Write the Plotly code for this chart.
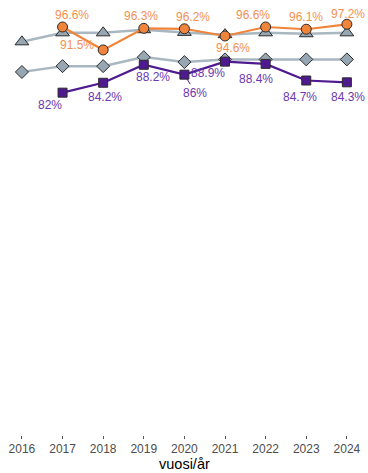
import plotly.graph_objects as go

years = [2016, 2017, 2018, 2019, 2020, 2021, 2022, 2023, 2024]

# orange series (labelled)
orange_years = [2017, 2018, 2019, 2020, 2021, 2022, 2023, 2024]
orange_vals = [96.6, 91.5, 96.3, 96.2, 94.6, 96.6, 96.1, 97.2]

# purple series (labelled)
purple_years = [2017, 2018, 2019, 2020, 2021, 2022, 2023, 2024]
purple_vals = [82.0, 84.2, 88.2, 86.0, 88.9, 88.4, 84.7, 84.3]

# grey comparison series (no labels)
tri_vals = [93.3, 95.3, 95.3, 96.0, 95.4, 94.9, 95.3, 95.1, 95.3]
dia_vals = [86.6, 87.9, 87.9, 89.9, 88.8, 89.4, 89.4, 89.4, 89.4]

# label offsets in px (dx, dy), ggrepel-like placement
orange_off = [(9, 12), (-26, 5), (-3, 12), (9, 12), (8, -12), (-13, 12), (0, 12), (1, 10)]
purple_off = [(-13, -12), (2, -14), (9, -12), (11, -18), (-17, -11), (-10, -15), (-6, -16), (1, -15)]

ORANGE = "#F0843A"
ORANGE_TXT = "#F39050"
PURPLE = "#4F1A8F"
PURPLE_TXT = "#6A38B0"
GREY_LINE = "#A9B7C1"
GREY_FILL = "#96A7B3"
EDGE = "#2b2b2b"

fig = go.Figure()

fig.add_trace(go.Scatter(
    x=years, y=dia_vals, mode="lines+markers",
    line=dict(color=GREY_LINE, width=2.5),
    marker=dict(symbol="diamond", size=10, color=GREY_FILL, line=dict(color=EDGE, width=1)),
    hoverinfo="skip", showlegend=False,
))
fig.add_trace(go.Scatter(
    x=years, y=tri_vals, mode="lines+markers",
    line=dict(color=GREY_LINE, width=2.5),
    marker=dict(symbol="triangle-up", size=12, color=GREY_FILL, line=dict(color=EDGE, width=1)),
    hoverinfo="skip", showlegend=False,
))
fig.add_trace(go.Scatter(
    x=orange_years, y=orange_vals, mode="lines+markers",
    line=dict(color=ORANGE, width=2.2),
    marker=dict(symbol="circle", size=10, color=ORANGE, line=dict(color=EDGE, width=1)),
    hoverinfo="skip", showlegend=False,
))
fig.add_trace(go.Scatter(
    x=purple_years, y=purple_vals, mode="lines+markers",
    line=dict(color=PURPLE, width=2.2),
    marker=dict(symbol="square", size=9, color=PURPLE, line=dict(color=EDGE, width=1)),
    hoverinfo="skip", showlegend=False,
))

def fmt(v):
    return f"{v:g}%"

for x, v, (dx, dy) in zip(orange_years, orange_vals, orange_off):
    fig.add_annotation(x=x, y=v, text=fmt(v), showarrow=False, xshift=dx, yshift=dy,
                       font=dict(color=ORANGE_TXT, size=12))

for x, v, (dx, dy) in zip(purple_years, purple_vals, purple_off):
    if x == 2020:
        # repelled label with a connector segment
        fig.add_annotation(x=x, y=v, text=fmt(v), showarrow=True, arrowhead=0,
                           arrowcolor=PURPLE, arrowwidth=1, standoff=5,
                           ax=dx, ay=-dy, font=dict(color=PURPLE_TXT, size=12))
    else:
        fig.add_annotation(x=x, y=v, text=fmt(v), showarrow=False, xshift=dx, yshift=dy,
                           font=dict(color=PURPLE_TXT, size=12))

# x-axis title placed by hand (ggplot-like tight spacing)
fig.add_annotation(x=0.5, y=0, xref="paper", yref="paper", text="vuosi/år",
                   showarrow=False, yanchor="middle", yshift=-29, borderpad=0,
                   font=dict(size=14.5, color="black"))

fig.update_layout(
    width=368, height=473,
    margin=dict(l=0, r=0, t=0, b=38),
    paper_bgcolor="white", plot_bgcolor="white",
    font=dict(family="Liberation Sans, Arial, sans-serif"),
    xaxis=dict(
        range=[2015.46, 2024.52], tickmode="array", tickvals=years,
        ticks="outside", ticklen=3, tickcolor="#555555", tickwidth=1,
        tickfont=dict(size=12, color="#4d4d4d"),
        showgrid=False, zeroline=False, showline=False,
    ),
    yaxis=dict(
        range=[5.9, 102.6], visible=False, showgrid=False, zeroline=False,
    ),
)

# remove the default page margin so the figure sits at the window's top-left
fig.write_html("out.html", config={"displayModeBar": False},
               post_script="document.body.style.margin='0';")
